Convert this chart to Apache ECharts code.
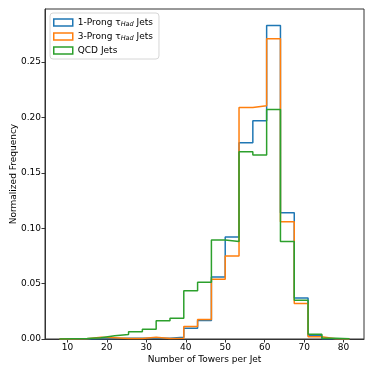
<!DOCTYPE html>
<html>
<head>
    <meta charset="utf-8">
    <title>Towers per Jet</title>
    <script src="https://cdn.jsdelivr.net/npm/echarts@6/dist/echarts.min.js"></script>
    <style>
        html, body { margin: 0; padding: 0; background: #fff; }
        #main { width: 374px; height: 374px; }
    </style>
</head>
<body>
<div id="main"></div>
<script>
    // bin edges (21 bins, width 3.5)
    var binEdges = [8, 11.5, 15, 18.5, 22, 25.5, 29, 32.5, 36, 39.5, 43, 46.5,
        50, 53.5, 57, 60.5, 64, 67.5, 71, 74.5, 78, 81.5];

    // normalized frequency per bin
    var oneProng = [0, 0, 0.0003, 0.0005, 0.0006, 0.0006, 0.0006, 0.0006, 0.0015, 0.0098, 0.0168,
        0.056, 0.092, 0.177, 0.197, 0.283, 0.114, 0.037, 0.003, 0.0002, 0];
    var threeProng = [0, 0.0002, 0.0015, 0.0012, 0.0005, 0.0005, 0.0015, 0.0004, 0.0007, 0.0112, 0.0176,
        0.054, 0.075, 0.209, 0.2105, 0.271, 0.1057, 0.032, 0.002, 0.0002, 0];
    var qcd = [0.0003, 0.0005, 0.0012, 0.003, 0.0041, 0.0066, 0.0087, 0.0165, 0.0187, 0.0436, 0.0512,
        0.0894, 0.088, 0.169, 0.166, 0.207, 0.088, 0.035, 0.0042, 0.0006, 0.0003];

    var seriesNames = ['1-Prong τHad Jets', '3-Prong τHad Jets', 'QCD Jets'];
    var colors = ['#1f77b4', '#ff7f0e', '#2ca02c'];

    var xTicks = [10, 20, 30, 40, 50, 60, 70, 80];
    var yTicks = [0, 0.05, 0.10, 0.15, 0.20, 0.25];

    // histtype='step' outline
    function stepLine(vals) {
        var pts = [[binEdges[0], 0]];
        for (var i = 0; i < vals.length; i++) {
            pts.push([binEdges[i], vals[i]]);
            pts.push([binEdges[i + 1], vals[i]]);
        }
        pts.push([binEdges[binEdges.length - 1], 0]);
        return pts;
    }

    var allVals = [oneProng, threeProng, qcd];
    var font = 'DejaVu Sans';
    var fs = 9;

    var myChart = echarts.init(document.getElementById('main'));
    var option = {
        animation: false,
        textStyle: { fontFamily: font },
        grid: {
            left: 45, right: 10, top: 9, bottom: 35,
            containLabel: false, outerBoundsMode: 'none',
            show: true, borderColor: '#333', borderWidth: 1
        },
        legend: {
            orient: 'vertical',
            left: 50, top: 13,
            padding: [4, 6, 3, 3],
            itemGap: 3,
            itemWidth: 19, itemHeight: 7,
            borderColor: '#d6d6d6', borderWidth: 1, borderRadius: 3,
            backgroundColor: '#fff',
            data: seriesNames.map(function (n, i) {
                return {
                    name: n, icon: 'rect',
                    itemStyle: { color: '#fff', borderColor: colors[i], borderWidth: 1.5 }
                };
            }),
            formatter: function (n) {
                return n.replace('τHad', 'τ{sub|Had}');
            },
            textStyle: {
                fontFamily: font, fontSize: fs, color: '#000', lineHeight: 11,
                rich: {
                    sub: { fontFamily: font, fontSize: 6.5, fontStyle: 'italic', verticalAlign: 'bottom', lineHeight: 9, padding: [3, 0, 0, 0] }
                }
            }
        },
        xAxis: {
            type: 'value',
            min: 4.325, max: 85.175,
            name: 'Number of Towers per Jet',
            nameLocation: 'middle', nameGap: 16, nameMoveOverlap: false,
            nameTextStyle: { fontFamily: font, fontSize: fs, color: '#000' },
            splitLine: { show: false },
            axisLine: { show: true, lineStyle: { color: '#333' } },
            axisTick: { show: true, length: 3.5, customValues: xTicks, lineStyle: { color: '#333' } },
            axisLabel: {
                customValues: xTicks, margin: 4,
                fontFamily: font, fontSize: fs, color: '#000'
            }
        },
        yAxis: {
            type: 'value',
            min: 0, max: 0.2978,
            name: 'Normalized Frequency',
            nameLocation: 'middle', nameGap: 27, nameMoveOverlap: false,
            nameTextStyle: { fontFamily: font, fontSize: fs, color: '#000' },
            splitLine: { show: false },
            axisLine: { show: true, lineStyle: { color: '#333' } },
            axisTick: { show: true, length: 3.5, customValues: yTicks, lineStyle: { color: '#333' } },
            axisLabel: {
                customValues: yTicks, margin: 4,
                fontFamily: font, fontSize: fs, color: '#000',
                formatter: function (v) { return v.toFixed(2); }
            }
        },
        series: allVals.map(function (vals, i) {
            return {
                name: seriesNames[i],
                type: 'line',
                data: stepLine(vals),
                showSymbol: false,
                symbol: 'none',
                color: colors[i],
                lineStyle: { width: 1.5, color: colors[i] }
            };
        })
    };
    myChart.setOption(option);
</script>
</body>
</html>
